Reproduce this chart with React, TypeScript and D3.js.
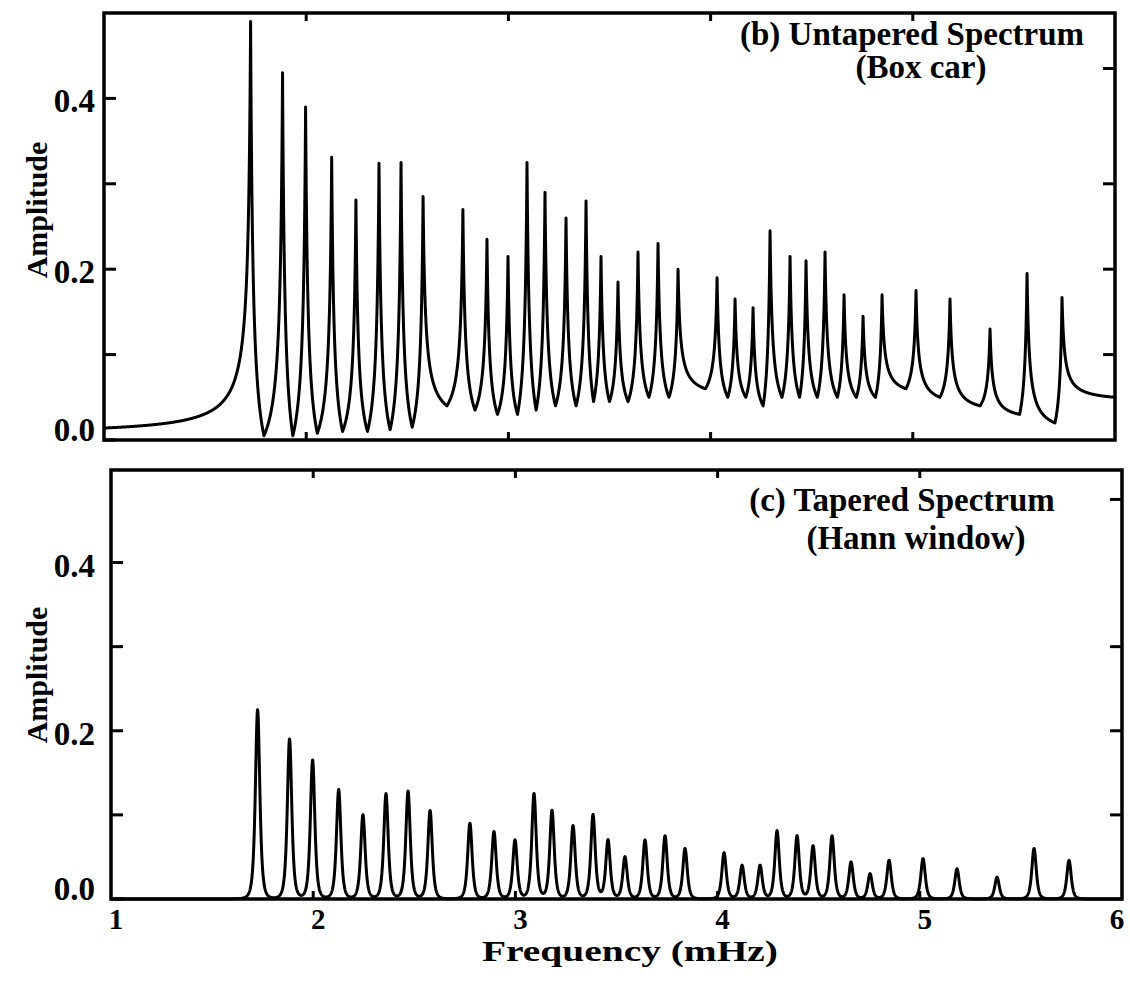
import React from "react";
import * as d3 from "d3";

const W = 1130;
const H = 983;
const FONT = "'Liberation Serif', 'Times New Roman', Times, serif";

// Normal-mode frequencies (mHz) present in both spectra
const modeFreq = [
  1.725, 1.883, 1.997, 2.126, 2.246, 2.36, 2.469, 2.578, 2.775, 2.894, 2.998,
  3.092, 3.181, 3.285, 3.384, 3.458, 3.542, 3.641, 3.74, 3.839, 4.032, 4.121,
  4.21, 4.294, 4.393, 4.472, 4.566, 4.66, 4.754, 4.848, 5.016, 5.184, 5.382,
  5.565, 5.738,
];

// (b) untapered (box car) spectrum: peak amplitude of each mode
const boxcarPeak = [
  0.49, 0.43, 0.39, 0.331, 0.281, 0.324, 0.325, 0.285, 0.27, 0.235, 0.215,
  0.325, 0.29, 0.26, 0.28, 0.215, 0.185, 0.22, 0.23, 0.2, 0.19, 0.165, 0.155,
  0.245, 0.215, 0.21, 0.22, 0.17, 0.145, 0.17, 0.175, 0.165, 0.13, 0.195, 0.167,
];

// Minimum between consecutive box-car peaks (one fewer than the modes)
const boxcarDipFreq = [
  1.791, 1.934, 2.055, 2.18, 2.303, 2.415, 2.524, 2.696, 2.835, 2.946, 3.045,
  3.137, 3.233, 3.335, 3.421, 3.5, 3.592, 3.695, 3.794, 3.974, 4.085, 4.174,
  4.26, 4.353, 4.44, 4.528, 4.627, 4.721, 4.815, 4.966, 5.134, 5.333, 5.528,
  5.703,
];
const boxcarDip = [
  0.005, 0.005, 0.008, 0.01, 0.01, 0.012, 0.015, 0.04, 0.035, 0.03, 0.03,
  0.035, 0.04, 0.04, 0.045, 0.045, 0.045, 0.05, 0.05, 0.06, 0.05, 0.05, 0.04,
  0.05, 0.05, 0.05, 0.05, 0.05, 0.05, 0.06, 0.05, 0.04, 0.03, 0.02,
];
// Leakage level at the two ends of the band (1 and 6 mHz)
const boxcarEdge = [0.014, 0.05];

// (c) tapered (Hann window) spectrum: peak amplitude of each mode
const hannPeak = [
  0.225, 0.19, 0.165, 0.13, 0.1, 0.125, 0.128, 0.105, 0.09, 0.08, 0.07, 0.125,
  0.105, 0.087, 0.1, 0.07, 0.05, 0.07, 0.075, 0.06, 0.055, 0.04, 0.04, 0.081,
  0.075, 0.063, 0.075, 0.044, 0.03, 0.046, 0.048, 0.036, 0.026, 0.06, 0.046,
];

const freqDomain = [1, 6];
const freqTicks = [1, 2, 3, 4, 5, 6];
const ampTickLabels = [0, 0.2, 0.4];
const ampTicks = [0, 0.1, 0.2, 0.3, 0.4];
const rightTicksB = [0.1, 0.2, 0.3, 0.435];
const rightTicksC = [0.1, 0.2, 0.3, 0.475];

// Box-car line: each mode is a sharp resonance whose flanks fall off
// like a Lorentzian tail down to the neighbouring minima.
const GAMMA = 0.012;
function flank(fPeak: number, aPeak: number, fLow: number, aLow: number) {
  const g = (d: number) => GAMMA / (GAMMA + d);
  const D = Math.abs(fLow - fPeak);
  const gD = g(D);
  const n = Math.max(8, Math.ceil(D / 0.0005));
  const pts: [number, number][] = [];
  for (let i = 0; i <= n; i++) {
    const f = fLow + ((fPeak - fLow) * i) / n;
    const t = (g(Math.abs(f - fPeak)) - gD) / (1 - gD);
    pts.push([f, aLow + (aPeak - aLow) * t]);
  }
  return pts;
}

function boxcarLine(): [number, number][] {
  const out: [number, number][] = [];
  const push = (p: [number, number][]) => out.push(...p);
  push(flank(modeFreq[0], boxcarPeak[0], freqDomain[0], boxcarEdge[0]));
  for (let k = 1; k < modeFreq.length; k++) {
    push(flank(modeFreq[k - 1], boxcarPeak[k - 1], boxcarDipFreq[k - 1], boxcarDip[k - 1]).reverse());
    push(flank(modeFreq[k], boxcarPeak[k], boxcarDipFreq[k - 1], boxcarDip[k - 1]));
  }
  const last = modeFreq.length - 1;
  push(flank(modeFreq[last], boxcarPeak[last], freqDomain[1], boxcarEdge[1]).reverse());
  return out;
}

// Hann line: narrow bell-shaped response around each mode.
const HANN_W = 0.02;
function hannLine(): [number, number][] {
  const fs: number[] = [];
  for (let f = freqDomain[0]; f <= freqDomain[1] + 1e-9; f += 0.001) fs.push(f);
  fs.push(...modeFreq);
  fs.sort((a, b) => a - b);
  return fs.map((f) => {
    let v = 0;
    modeFreq.forEach((fk, k) => {
      const u = (f - fk) / HANN_W;
      v += hannPeak[k] / ((1 + u * u) * (1 + u * u));
    });
    return [f, v] as [number, number];
  });
}

type PanelProps = {
  xRange: [number, number];
  yRange: [number, number];
  yMax: number;
  data: [number, number][];
  rightTicks: number[];
  title: string[];
  titleX: number[];
  titleY: number[];
  ylabelY: number;
  showXLabels: boolean;
};

function Panel(p: PanelProps) {
  const x = d3.scaleLinear().domain(freqDomain).range(p.xRange);
  const y = d3.scaleLinear().domain([0, p.yMax]).range(p.yRange);
  const line = d3
    .line<[number, number]>()
    .x((d) => x(d[0]))
    .y((d) => y(Math.min(d[1], p.yMax)));
  const [x0, x1] = p.xRange;
  const [yb, yt] = p.yRange;
  const tickLen = 12;
  const xTickLen = 8;
  return (
    <g>
      <path d={line(p.data) || ""} fill="none" stroke="#000" strokeWidth={3} strokeLinejoin="round" />
      <rect x={x0} y={yt} width={x1 - x0} height={yb - yt} fill="none" stroke="#000" strokeWidth={3.5} />
      {ampTicks.map((v) => (
        <line key={"l" + v} x1={x0} x2={x0 + tickLen} y1={y(v)} y2={y(v)} stroke="#000" strokeWidth={3} />
      ))}
      {p.rightTicks.map((v) => (
        <line key={"r" + v} x1={x1} x2={x1 - tickLen} y1={y(v)} y2={y(v)} stroke="#000" strokeWidth={3} />
      ))}
      {freqTicks.slice(1, -1).map((v) => (
        <g key={"t" + v}>
          <line x1={x(v)} x2={x(v)} y1={yt} y2={yt + xTickLen} stroke="#000" strokeWidth={3} />
          <line x1={x(v)} x2={x(v)} y1={yb} y2={yb - xTickLen} stroke="#000" strokeWidth={3} />
        </g>
      ))}
      {ampTickLabels.map((v) => (
        <text
          key={"yl" + v}
          x={95}
          y={y(v) + (v === 0 ? 1 : 14)}
          textAnchor="end"
          fontFamily={FONT}
          fontWeight="bold"
          fontSize={33}
        >
          {d3.format(".1f")(v)}
        </text>
      ))}
      <text
        transform={`translate(47,${p.ylabelY}) rotate(-90)`}
        textAnchor="middle"
        fontFamily={FONT}
        fontWeight="bold"
        fontSize={30}
      >
        Amplitude
      </text>
      {p.title.map((t, i) => (
        <text
          key={"ti" + i}
          x={p.titleX[i]}
          y={p.titleY[i]}
          textAnchor="middle"
          fontFamily={FONT}
          fontWeight="bold"
          fontSize={33}
        >
          {t}
        </text>
      ))}
      {p.showXLabels &&
        freqTicks.map((v) => (
          <text
            key={"xl" + v}
            x={Math.min(x(v) + 5, 1117)}
            y={929}
            textAnchor="middle"
            fontFamily={FONT}
            fontWeight="bold"
            fontSize={29}
          >
            {v}
          </text>
        ))}
    </g>
  );
}

export default function App() {
  const boxData = boxcarLine();
  const hannData = hannLine();
  return (
    <svg
      width={W}
      height={H}
      viewBox={`0 0 ${W} ${H}`}
      style={{ position: "absolute", left: 0, top: 0, background: "#fff" }}
    >
      <rect x={0} y={0} width={W} height={H} fill="#fff" />
      <Panel
        xRange={[104, 1115]}
        yRange={[440, 13]}
        yMax={0.5}
        data={boxData}
        rightTicks={rightTicksB}
        title={["(b) Untapered Spectrum", "(Box car)"]}
        titleX={[912, 921]}
        titleY={[45, 78]}
        ylabelY={210}
        showXLabels={false}
      />
      <Panel
        xRange={[111, 1122]}
        yRange={[899, 470]}
        yMax={0.51}
        data={hannData}
        rightTicks={rightTicksC}
        title={["(c) Tapered Spectrum", "(Hann window)"]}
        titleX={[902, 916]}
        titleY={[511, 549]}
        ylabelY={675}
        showXLabels={true}
      />
      <text
        x={630}
        y={961}
        textAnchor="middle"
        fontFamily={FONT}
        fontWeight="bold"
        fontSize={30}
        textLength={296}
        lengthAdjust="spacingAndGlyphs"
      >
        Frequency (mHz)
      </text>
    </svg>
  );
}
